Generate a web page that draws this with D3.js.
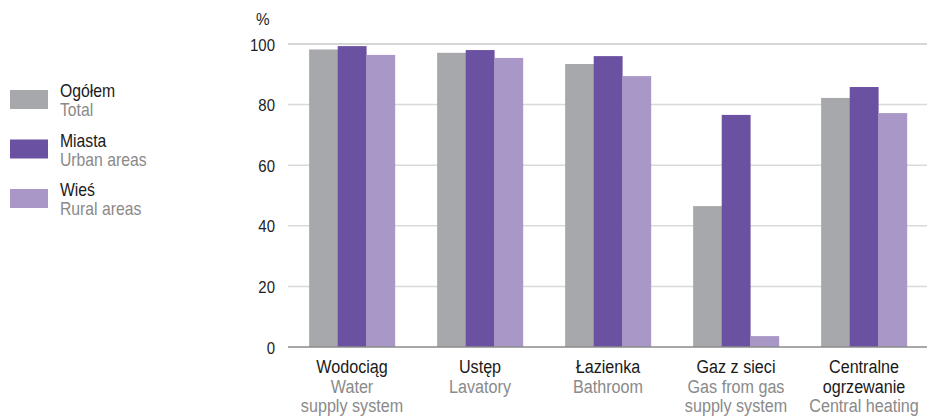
<!DOCTYPE html>
<html><head><meta charset="utf-8">
<script src="https://cdn.jsdelivr.net/npm/d3@7"></script>
<style>
html,body{margin:0;padding:0;background:#fff;}
svg{display:block;font-family:"Liberation Sans",Arial,sans-serif;}
</style></head><body>
<svg id="chart" width="927" height="416"></svg>
<script>
const categoriesPl = ["Wodociąg","Ustęp","Łazienka","Gaz z sieci","Centralne\nogrzewanie"];
const categoriesEn = ["Water\nsupply system","Lavatory","Bathroom","Gas from gas\nsupply system","Central heating"];
const seriesNames = ["Ogółem","Miasta","Wieś"];
const seriesNamesEn = ["Total","Urban areas","Rural areas"];
const total = [98.2, 97.1, 93.4, 46.5, 82.2];
const urban = [99.3, 98.0, 96.0, 76.6, 85.8];
const rural = [96.4, 95.4, 89.4, 3.6, 77.2];
const yTicks = [0,20,40,60,80,100];
const colors = ["#a7a8ab","#6b51a1","#a897c7"];

(function(){
const svg = d3.select("#chart");
const pL = 288, pR = 928, pT = 44, pB = 347;
const x = d3.scaleBand().domain(d3.range(categoriesPl.length)).range([pL,pR]).paddingInner(0.33).paddingOuter(0.165);
const xs = d3.scaleBand().domain(d3.range(3)).range([0,x.bandwidth()]);
const y = d3.scaleLinear().domain([0,100]).range([pB,pT]);

svg.append("g").selectAll("line").data(yTicks.filter(d=>d>0)).join("line")
  .attr("x1",pL).attr("x2",927).attr("y1",d=>y(d)).attr("y2",d=>y(d))
  .attr("stroke",d=>d===100?"#c8c8c8":"#d9d9d9").attr("stroke-width",1.5);

const yAxis = d3.axisLeft(y).tickValues(yTicks).tickSize(0).tickPadding(0);
const ga = svg.append("g").attr("transform",`translate(275,0)`).call(yAxis);
ga.select(".domain").remove();
ga.attr("font-family",null).attr("font-size",null);
ga.selectAll("text").attr("font-size",17).attr("fill","#222").attr("x",0).attr("dy","0.36em")
  .attr("transform","scale(0.88,1)");

svg.append("text").attr("transform","translate(256,25) scale(0.9,1)").attr("font-size",17).attr("fill","#222").text("%");

const series = [total, urban, rural];
const g = svg.append("g");
series.forEach((vals,si)=>{
  g.selectAll(null).data(vals).join("rect")
    .attr("x",(d,i)=>x(i)+xs(si)).attr("width",xs.bandwidth()+0.3)
    .attr("y",d=>y(d)).attr("height",d=>y(0)-y(d)).attr("fill",colors[si]);
});

svg.append("line").attr("x1",pL).attr("x2",927).attr("y1",y(0)).attr("y2",y(0)).attr("stroke","#8a8a8a").attr("stroke-width",1.5);

const lab = svg.append("g").attr("text-anchor","middle").attr("font-size",19);
categoriesPl.forEach((c,i)=>{
  const cx = x(i)+x.bandwidth()/2;
  const pl = c.split("\n"), en = categoriesEn[i].split("\n");
  let ln = 0;
  pl.forEach(t=>{ lab.append("text").attr("transform",`translate(${cx},${373+ln*19.5}) scale(0.85,1)`).attr("fill","#1a1a1a").text(t); ln++; });
  en.forEach(t=>{ lab.append("text").attr("transform",`translate(${cx},${373+ln*19.5}) scale(0.85,1)`).attr("fill","#8a8a8a").text(t); ln++; });
});

const leg = svg.append("g");
seriesNames.forEach((n,i)=>{
  const y0 = 90 + i*49.5;
  leg.append("rect").attr("x",10).attr("y",y0).attr("width",38).attr("height",19).attr("fill",colors[i]);
  leg.append("text").attr("transform",`translate(60,${y0+7.3}) scale(0.9,1)`).attr("font-size",17.5).attr("fill","#1a1a1a").text(n);
  leg.append("text").attr("transform",`translate(60,${y0+26}) scale(0.9,1)`).attr("font-size",17.5).attr("fill","#8a8a8a").text(seriesNamesEn[i]);
});
})();
</script></body></html>
